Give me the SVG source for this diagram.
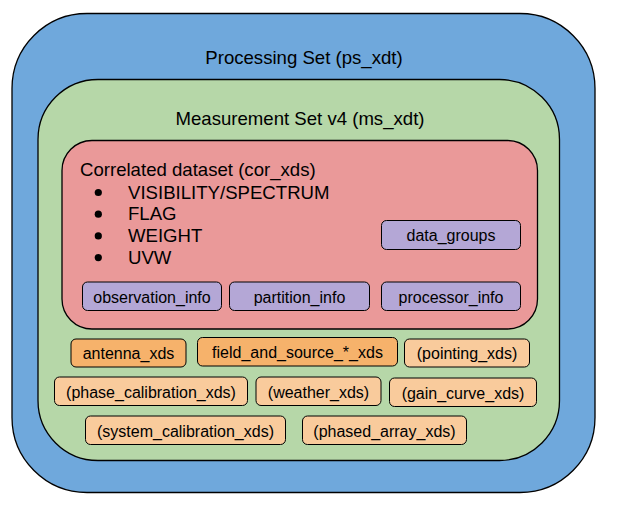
<svg xmlns="http://www.w3.org/2000/svg" width="619" height="509" viewBox="0 0 619 509">
<style>
  .big { font-family: "Liberation Sans", Arial, sans-serif; font-size: 18.6px; fill: #000; }
  .sm { font-family: "Liberation Sans", Arial, sans-serif; font-size: 16px; fill: #000; text-anchor: middle; }
  .c { text-anchor: middle; }
  .frame { stroke: #000; stroke-width: 1.3; }
  .box { stroke: #000; stroke-width: 1; }
  .purple { fill: #b4a7d6; }
  .dark { fill: #f6b26b; }
  .light { fill: #f9cb9c; }
</style>
<rect width="619" height="509" fill="#ffffff"/>
<g id="processing_set">
  <rect class="frame" x="12" y="13.5" width="583" height="479" rx="75" ry="75" fill="#6fa8dc"/>
  <text class="big c" x="304" y="64">Processing Set (ps_xdt)</text>
</g>
<g id="measurement_set">
  <rect class="frame" x="38" y="79.5" width="521.5" height="381" rx="60" ry="60" fill="#b6d7a8"/>
  <text class="big c" x="300" y="125">Measurement Set v4 (ms_xdt)</text>
</g>
<g id="correlated_dataset">
  <rect class="frame" x="62" y="140.5" width="475.5" height="188.5" rx="30" ry="30" fill="#ea9999"/>
  <text class="big" x="80" y="176">Correlated dataset (cor_xds)</text>
  <circle cx="98.3" cy="192.5" r="3.6" fill="#000"/>
  <circle cx="98.3" cy="214.2" r="3.6" fill="#000"/>
  <circle cx="98.3" cy="235.9" r="3.6" fill="#000"/>
  <circle cx="98.3" cy="257.6" r="3.6" fill="#000"/>
  <text class="big" x="128" y="198.5">VISIBILITY/SPECTRUM</text>
  <text class="big" x="128" y="220.2">FLAG</text>
  <text class="big" x="128" y="241.9">WEIGHT</text>
  <text class="big" x="128" y="263.6">UVW</text>
</g>
<g id="data_groups">
  <rect class="box purple" x="381.5" y="220.5" width="139" height="29" rx="5"/>
  <text class="sm" x="451" y="241">data_groups</text>
</g>
<g id="observation_info">
  <rect class="box purple" x="82.5" y="282" width="139" height="28.5" rx="5"/>
  <text class="sm" x="152" y="302.5">observation_info</text>
</g>
<g id="partition_info">
  <rect class="box purple" x="229.5" y="282" width="140" height="28.5" rx="5"/>
  <text class="sm" x="299.5" y="302.5">partition_info</text>
</g>
<g id="processor_info">
  <rect class="box purple" x="381.5" y="282" width="139" height="28.5" rx="5"/>
  <text class="sm" x="451" y="302.5">processor_info</text>
</g>
<g id="antenna_xds">
  <rect class="box dark" x="71" y="339" width="115" height="28" rx="5"/>
  <text class="sm" x="128.5" y="358.5">antenna_xds</text>
</g>
<g id="field_and_source_xds">
  <rect class="box dark" x="197.5" y="337.5" width="200" height="28.5" rx="5"/>
  <text class="sm" x="297.5" y="357.5">field_and_source_*_xds</text>
</g>
<g id="pointing_xds">
  <rect class="box light" x="404.5" y="339" width="125" height="28" rx="5"/>
  <text class="sm" x="467" y="358.5">(pointing_xds)</text>
</g>
<g id="phase_calibration_xds">
  <rect class="box light" x="54.5" y="377" width="193" height="28.5" rx="5"/>
  <text class="sm" x="151" y="397.5">(phase_calibration_xds)</text>
</g>
<g id="weather_xds">
  <rect class="box light" x="256" y="377" width="125" height="28.5" rx="5"/>
  <text class="sm" x="318.5" y="397.5">(weather_xds)</text>
</g>
<g id="gain_curve_xds">
  <rect class="box light" x="389.5" y="378" width="147" height="28.5" rx="5"/>
  <text class="sm" x="463" y="398.5">(gain_curve_xds)</text>
</g>
<g id="system_calibration_xds">
  <rect class="box light" x="85.5" y="416" width="200" height="28.5" rx="5"/>
  <text class="sm" x="185.5" y="436.8">(system_calibration_xds)</text>
</g>
<g id="phased_array_xds">
  <rect class="box light" x="302.5" y="416" width="164" height="28.5" rx="5"/>
  <text class="sm" x="384.5" y="436.8">(phased_array_xds)</text>
</g>
<g id="connectors"></g>
</svg>
